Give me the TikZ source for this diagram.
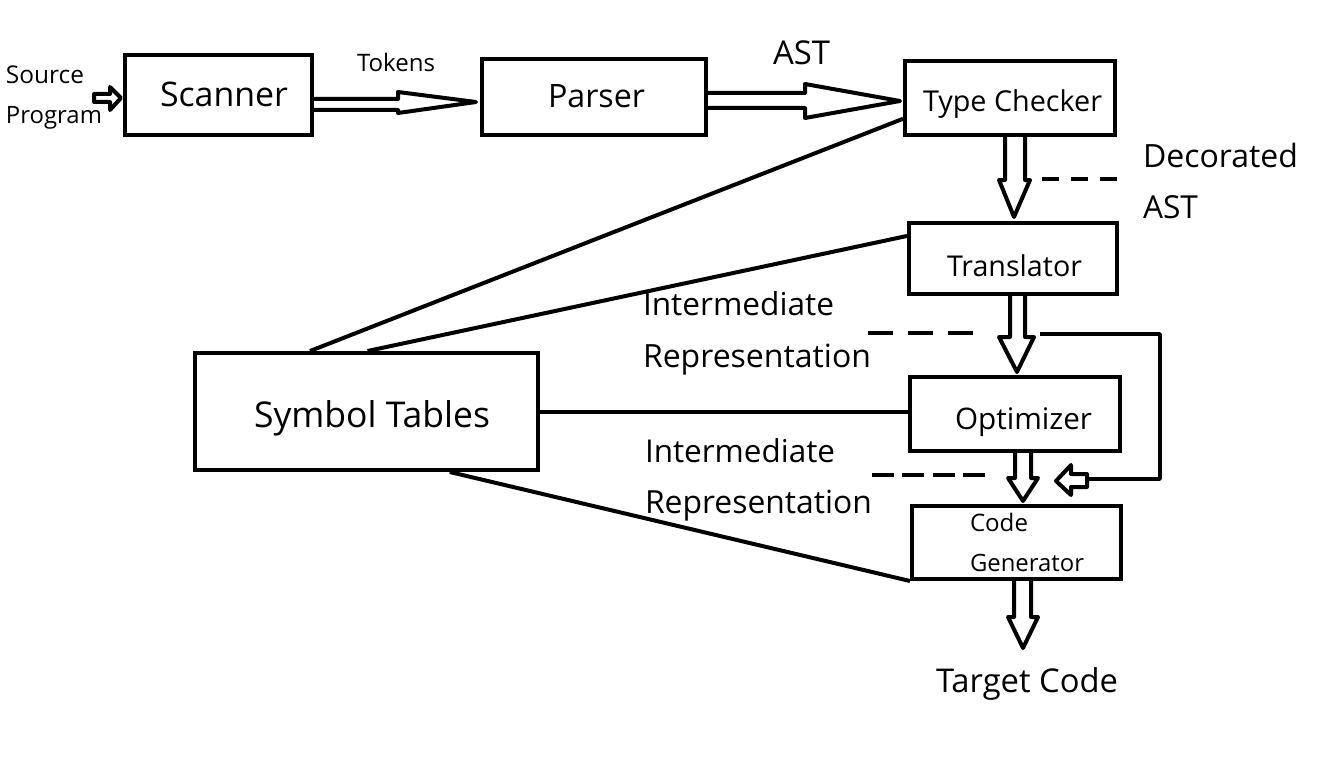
\documentclass[tikz,border=0pt]{standalone}
\usepackage{fontspec}
\setmainfont{Open Sans}
\usepackage{graphicx}
\newlength\pxl
\setlength\pxl{0.75pt}
\newcommand{\tw}[2]{\resizebox{#1\pxl}{!}{#2}}
\begin{document}
\begin{tikzpicture}[x=0.75pt,y=-0.75pt,
  box/.style={draw, line width=3pt, inner sep=0pt, rectangle, line join=miter},
  txt/.style={anchor=base west, inner sep=0pt, outer sep=0pt},
  hollow/.style={draw, line width=3pt, fill=white, line join=round},
  link/.style={line width=3pt},
  dsh/.style={line width=2.6pt}
]
\useasboundingbox (0,0) rectangle (1328,774);

% boxes
\node[box, minimum width=187\pxl, minimum height=80\pxl] (scanner) at (218.5,95) {};
\node[box, minimum width=224\pxl, minimum height=76\pxl] (parser) at (594,97) {};
\node[box, minimum width=210\pxl, minimum height=74\pxl] (tc) at (1010,98) {};
\node[box, minimum width=208\pxl, minimum height=71\pxl] (tr) at (1013,258.5) {};
\node[box, minimum width=210\pxl, minimum height=74\pxl] (opt) at (1015,414) {};
\node[box, minimum width=209\pxl, minimum height=73\pxl] (cg) at (1016.5,542.5) {};
\node[box, minimum width=343\pxl, minimum height=117\pxl] (st) at (366.5,411.5) {};

% texts
\node[txt] (srcA) at (6,84) {\tw{78}{Source}};
\node[txt] (srcB) at (6,123) {\tw{96}{Program}};
\node[txt] (scT) at (160,107) {\tw{128}{Scanner}};
\node[txt] (tokT) at (357,72) {\tw{78}{Tokens}};
\node[txt] (paT) at (548,108) {\tw{97}{Parser}};
\node[txt] (astT) at (773,65) {\tw{57}{AST}};
\node[txt] (tcT) at (923,112) {\tw{179}{Type Checker}};
\node[txt] (decA) at (1143,167) {\tw{155}{Decorated}};
\node[txt] (decB) at (1143,219) {\tw{55}{AST}};
\node[txt] (trT) at (947,276) {\tw{135}{Translator}};
\node[txt] (irA1) at (643,315) {\tw{191}{Intermediate}};
\node[txt] (irB1) at (643,367) {\tw{228}{Representation}};
\node[txt] (irA2) at (645,462) {\tw{190}{Intermediate}};
\node[txt] (irB2) at (645,513) {\tw{227}{Representation}};
\node[txt] (stT) at (254,427) {\tw{236}{Symbol Tables}};
\node[txt] (opT) at (955,429) {\tw{137}{Optimizer}};
\node[txt] (cgA) at (970,531) {\tw{58}{Code}};
\node[txt] (cgB) at (970,571) {\tw{114}{Generator}};
\node[txt] (tgT) at (936,692) {\tw{182}{Target Code}};

% symbol table links
\draw[link] (st.133) -- (tc.191);
\draw[link] (st.89) -- (tr.168);
\draw[link] (st.east) -- (opt.west |- st.east);
\draw[link] (st.324) -- (cg.south west);

% hollow arrows
\draw[hollow] (94,94) -- (110,94) -- (110,87) -- (121,98) -- (110,110) -- (110,102) -- (94,102) -- cycle;
\draw[hollow] (314,99) -- (398,99) -- (398,92) -- (476,102) -- (398,113) -- (398,110) -- (314,110);
\draw[hollow] (708,93) -- (805,93) -- (805,84) -- (900,101) -- (805,118) -- (805,108) -- (708,108);
\draw[hollow] (1005,137) -- (1005,180) -- (999,180) -- (1014,217) -- (1030,180) -- (1025,180) -- (1025,137);
\draw[hollow] (1010,296) -- (1010,337) -- (999,337) -- (1017,372) -- (1034,337) -- (1025,337) -- (1025,296);
\draw[hollow] (1015,453) -- (1015,478) -- (1008,478) -- (1023,501) -- (1038,478) -- (1031,478) -- (1031,453);
\draw[hollow] (1014,581) -- (1014,617) -- (1008,617) -- (1023,648) -- (1038,617) -- (1031,617) -- (1031,581);

% feedback loop
\coordinate (fbA) at (1040,334);
\coordinate (fbB) at (1087,479);
\draw[line width=2.6pt, line join=round] (fbA) -- (1160,334) -- (1160,479) -- (fbB);
\draw[hollow] (1087,474) -- (1071,474) -- (1071,465) -- (1056,481) -- (1071,495) -- (1071,487) -- (1087,487) -- cycle;

% dashed leaders
\draw[dsh, dash pattern=on 12.75pt off 9pt] (1042,179) -- (1117,179);
\draw[dsh, dash pattern=on 18.75pt off 11.25pt] (868,333) -- (973,333);
\draw[dsh, dash pattern=on 16.5pt off 6.2pt] (872,475) -- (985,475);
\end{tikzpicture}
\end{document}
